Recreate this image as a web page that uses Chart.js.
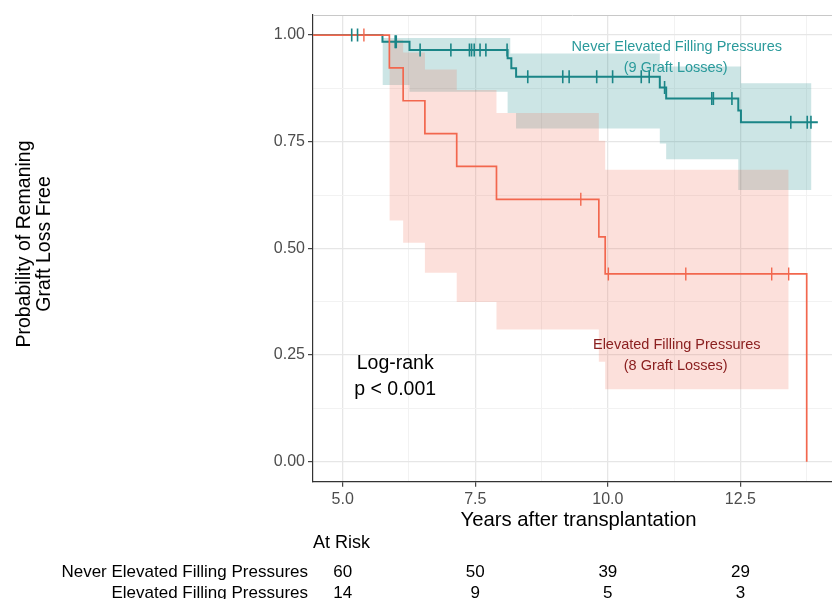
<!DOCTYPE html>
<html><head><meta charset="utf-8">
<script src="https://cdn.jsdelivr.net/npm/chart.js@4/dist/chart.umd.min.js"></script>
<style>html,body{margin:0;padding:0;background:#fff;overflow:hidden}</style>
</head><body>
<canvas id="c" width="832" height="599"></canvas>
<script>
// ---- axis ticks ----
const xMajorTicks = [5, 7.5, 10, 12.5];
const xMajorLabels = ['5.0', '7.5', '10.0', '12.5'];
const xMinorTicks = [6.25, 8.75, 11.25, 13.75];
const yMajorTicks = [0, 0.25, 0.5, 0.75, 1];
const yMajorLabels = ['0.00', '0.25', '0.50', '0.75', '1.00'];
const yMinorTicks = [0.125, 0.375, 0.625, 0.875];

// ---- Never Elevated Filling Pressures ----
const neverTimes = [0, 5.75, 6.26, 8.11, 8.18, 8.27, 10.98, 11.10, 12.46, 12.51, 13.96];
const neverSurv  = [1, 0.9845, 0.965, 0.9456, 0.922, 0.9025, 0.877, 0.851, 0.823, 0.7955, 0.7955];
const neverBandTimes = [5.75, 6.26, 8.11, 8.16, 8.27, 10.98, 11.10, 12.46, 12.51, 13.84];
const neverUpper = [0.993, 0.993, 0.993, 0.957, 0.957, 0.926, 0.926, 0.926, 0.887, 0.887];
const neverLower = [0.883, 0.867, 0.817, 0.817, 0.781, 0.746, 0.709, 0.637, 0.637, 0.637];
const neverCensorTimes = [5.17, 5.28, 5.99, 6.01, 6.46, 7.04, 7.39, 7.43, 7.48, 7.59, 7.70, 8.10,
  8.49, 9.15, 9.27, 9.79, 10.09, 10.63, 10.78, 11.07, 11.96, 11.99, 12.34, 13.45, 13.76, 13.83];
const neverCensorSurv = [1, 1, 0.9845, 0.9845, 0.965, 0.965, 0.965, 0.965, 0.965, 0.965, 0.965, 0.965,
  0.9025, 0.9025, 0.9025, 0.9025, 0.9025, 0.9025, 0.9025, 0.877, 0.851, 0.851, 0.851, 0.7955, 0.7955, 0.7955];

// ---- Elevated Filling Pressures ----
const elevTimes = [0, 5.88, 6.14, 6.55, 7.15, 7.90, 9.83, 9.95, 13.75];
const elevSurv  = [1, 0.923, 0.846, 0.769, 0.692, 0.615, 0.527, 0.440, 0];
const elevBandTimes = [5.88, 6.14, 6.55, 7.15, 7.90, 9.83, 9.95, 13.41];
const elevUpper = [0.989, 0.959, 0.919, 0.871, 0.817, 0.752, 0.684, 0.684];
const elevLower = [0.565, 0.513, 0.443, 0.374, 0.310, 0.234, 0.170, 0.170];
const elevCensorTimes = [5.40, 9.49, 10.01, 11.47, 13.09, 13.41];
const elevCensorSurv  = [1, 0.615, 0.440, 0.440, 0.440, 0.440];

// ---- at-risk table ----
const riskTimes = [5, 7.5, 10, 12.5];
const riskNever = [60, 50, 39, 29];
const riskElevated = [14, 9, 5, 3];
const groupNames = ['Never Elevated Filling Pressures', 'Elevated Filling Pressures'];

const TEAL = '#1a8587', ORANGE = '#f2674e';
const FONT = '"Liberation Sans", Arial, Helvetica, sans-serif';

const pts = (xs, ys) => xs.map((t, i) => ({x: t, y: ys[i]}));
const xAll = [...xMajorTicks, ...xMinorTicks].sort((a, b) => a - b);
const yAll = [...yMajorTicks, ...yMinorTicks].sort((a, b) => a - b);
const isMajorX = v => xMajorTicks.some(m => Math.abs(m - v) < 1e-9);
const isMajorY = v => yMajorTicks.some(m => Math.abs(m - v) < 1e-9);

const overlay = {
  id: 'overlay',
  afterDraw(chart) {
    const {ctx, chartArea: a, scales: {x, y}} = chart;
    ctx.save();
    // top panel border
    ctx.strokeStyle = '#c8c8c8'; ctx.lineWidth = 1;
    ctx.beginPath(); ctx.moveTo(a.left, a.top + 0.5); ctx.lineTo(a.right, a.top + 0.5); ctx.stroke();

    // group annotations
    ctx.textAlign = 'center'; ctx.textBaseline = 'middle';
    ctx.font = '14.5px ' + FONT;
    ctx.fillStyle = '#2a9a9b';
    ctx.fillText('Never Elevated Filling Pressures', x.getPixelForValue(11.30), y.getPixelForValue(0.973));
    ctx.fillText('(9 Graft Losses)', x.getPixelForValue(11.28), y.getPixelForValue(0.922));
    ctx.fillStyle = '#8b2020';
    ctx.fillText('Elevated Filling Pressures', x.getPixelForValue(11.30), y.getPixelForValue(0.273));
    ctx.fillText('(8 Graft Losses)', x.getPixelForValue(11.28), y.getPixelForValue(0.224));
    ctx.fillStyle = '#000';
    ctx.font = '19.5px ' + FONT;
    ctx.fillText('Log-rank', x.getPixelForValue(5.99), y.getPixelForValue(0.2305));
    ctx.fillText('p < 0.001', x.getPixelForValue(5.99), y.getPixelForValue(0.168));

    // axis titles
    ctx.textBaseline = 'alphabetic';
    ctx.font = '20.3px ' + FONT;
    ctx.fillText('Years after transplantation', 578.5, 526);
    ctx.save();
    ctx.translate(0, 244);
    ctx.rotate(-Math.PI / 2);
    ctx.font = '19.5px ' + FONT;
    ctx.textBaseline = 'middle';
    ctx.fillText('Probability of Remaning', 0, 25);
    ctx.fillText('Graft Loss Free', 0, 45);
    ctx.restore();

    // at-risk table
    ctx.font = '18px ' + FONT;
    ctx.textAlign = 'left';
    ctx.fillText('At Risk', a.left, 548);
    ctx.font = '17px ' + FONT;
    ctx.textAlign = 'right';
    ctx.fillText(groupNames[0], 308, 577);
    ctx.fillText(groupNames[1], 308, 598);
    ctx.textAlign = 'center';
    riskTimes.forEach((t, i) => {
      const px = x.getPixelForValue(t);
      ctx.fillText(String(riskNever[i]), px, 577);
      ctx.fillText(String(riskElevated[i]), px, 598);
    });
    ctx.restore();
  }
};

new Chart(document.getElementById('c'), {
  type: 'line',
  data: {
    datasets: [
      // censor marks (drawn on top)
      {type: 'scatter', data: pts(elevCensorTimes, elevCensorSurv), pointStyle: 'line', rotation: 90,
       pointRadius: 6.5, pointBorderWidth: 1.4, borderColor: ORANGE, backgroundColor: ORANGE, showLine: false, order: 0},
      {type: 'scatter', data: pts(neverCensorTimes, neverCensorSurv), pointStyle: 'line', rotation: 90,
       pointRadius: 6.5, pointBorderWidth: 1.6, borderColor: TEAL, backgroundColor: TEAL, showLine: false, order: 1},
      // survival curves
      {data: pts(elevTimes, elevSurv), stepped: 'before', borderColor: ORANGE, borderWidth: 1.7,
       pointRadius: 0, fill: false, borderJoinStyle: 'miter', order: 2},
      {data: pts(neverTimes, neverSurv), stepped: 'before', borderColor: TEAL, borderWidth: 2,
       pointRadius: 0, fill: false, borderJoinStyle: 'miter', order: 3},
      // confidence bands
      {data: pts(elevBandTimes, elevUpper), stepped: 'before', borderWidth: 0, borderColor: 'rgba(0,0,0,0)',
       pointRadius: 0, fill: false, order: 4},
      {data: pts(elevBandTimes, elevLower), stepped: 'before', borderWidth: 0, borderColor: 'rgba(0,0,0,0)',
       pointRadius: 0, fill: '-1', backgroundColor: 'rgba(240,100,75,0.2)', order: 5},
      {data: pts(neverBandTimes, neverUpper), stepped: 'before', borderWidth: 0, borderColor: 'rgba(0,0,0,0)',
       pointRadius: 0, fill: false, order: 6},
      {data: pts(neverBandTimes, neverLower), stepped: 'before', borderWidth: 0, borderColor: 'rgba(0,0,0,0)',
       pointRadius: 0, fill: '-1', backgroundColor: 'rgba(24,136,138,0.22)', order: 7}
    ]
  },
  options: {
    responsive: false,
    animation: false,
    events: [],
    layout: {autoPadding: false, padding: {top: 15, left: 0, right: 0, bottom: 0}},
    plugins: {legend: {display: false}, tooltip: {enabled: false}},
    scales: {
      x: {
        type: 'linear', min: 4.44, max: 14.227,
        afterBuildTicks: s => { s.ticks = xAll.map(v => ({value: v})); },
        afterFit: s => { s.height = 599 - 481.7; s.paddingLeft = 0; s.paddingRight = 0; },
        ticks: {
          autoSkip: false, maxRotation: 0, padding: 3,
          color: '#4d4d4d', font: {family: FONT, size: 16},
          callback: v => { const i = xMajorTicks.findIndex(m => Math.abs(m - v) < 1e-9); return i >= 0 ? xMajorLabels[i] : ''; }
        },
        grid: {
          color: c => isMajorX(c.tick.value) ? '#e6e6e6' : '#f2f2f2',
          lineWidth: c => isMajorX(c.tick.value) ? 1.3 : 1,
          tickColor: c => isMajorX(c.tick.value) ? '#333' : 'rgba(0,0,0,0)',
          tickLength: 5, tickWidth: 1.1
        },
        border: {color: '#333', width: 1.2}
      },
      y: {
        type: 'linear', min: -0.047, max: 1.047,
        afterBuildTicks: s => { s.ticks = yAll.map(v => ({value: v})); },
        afterFit: s => { s.width = 313; s.paddingTop = 0; s.paddingBottom = 0; },
        ticks: {
          autoSkip: false, padding: 3,
          color: '#4d4d4d', font: {family: FONT, size: 16},
          callback: v => { const i = yMajorTicks.findIndex(m => Math.abs(m - v) < 1e-9); return i >= 0 ? yMajorLabels[i] : ''; }
        },
        grid: {
          color: c => isMajorY(c.tick.value) ? '#e6e6e6' : '#f2f2f2',
          lineWidth: c => isMajorY(c.tick.value) ? 1.3 : 1,
          tickColor: c => isMajorY(c.tick.value) ? '#333' : 'rgba(0,0,0,0)',
          tickLength: 5, tickWidth: 1.1
        },
        border: {color: '#333', width: 1.2}
      }
    }
  },
  plugins: [overlay]
});
</script>
</body></html>
